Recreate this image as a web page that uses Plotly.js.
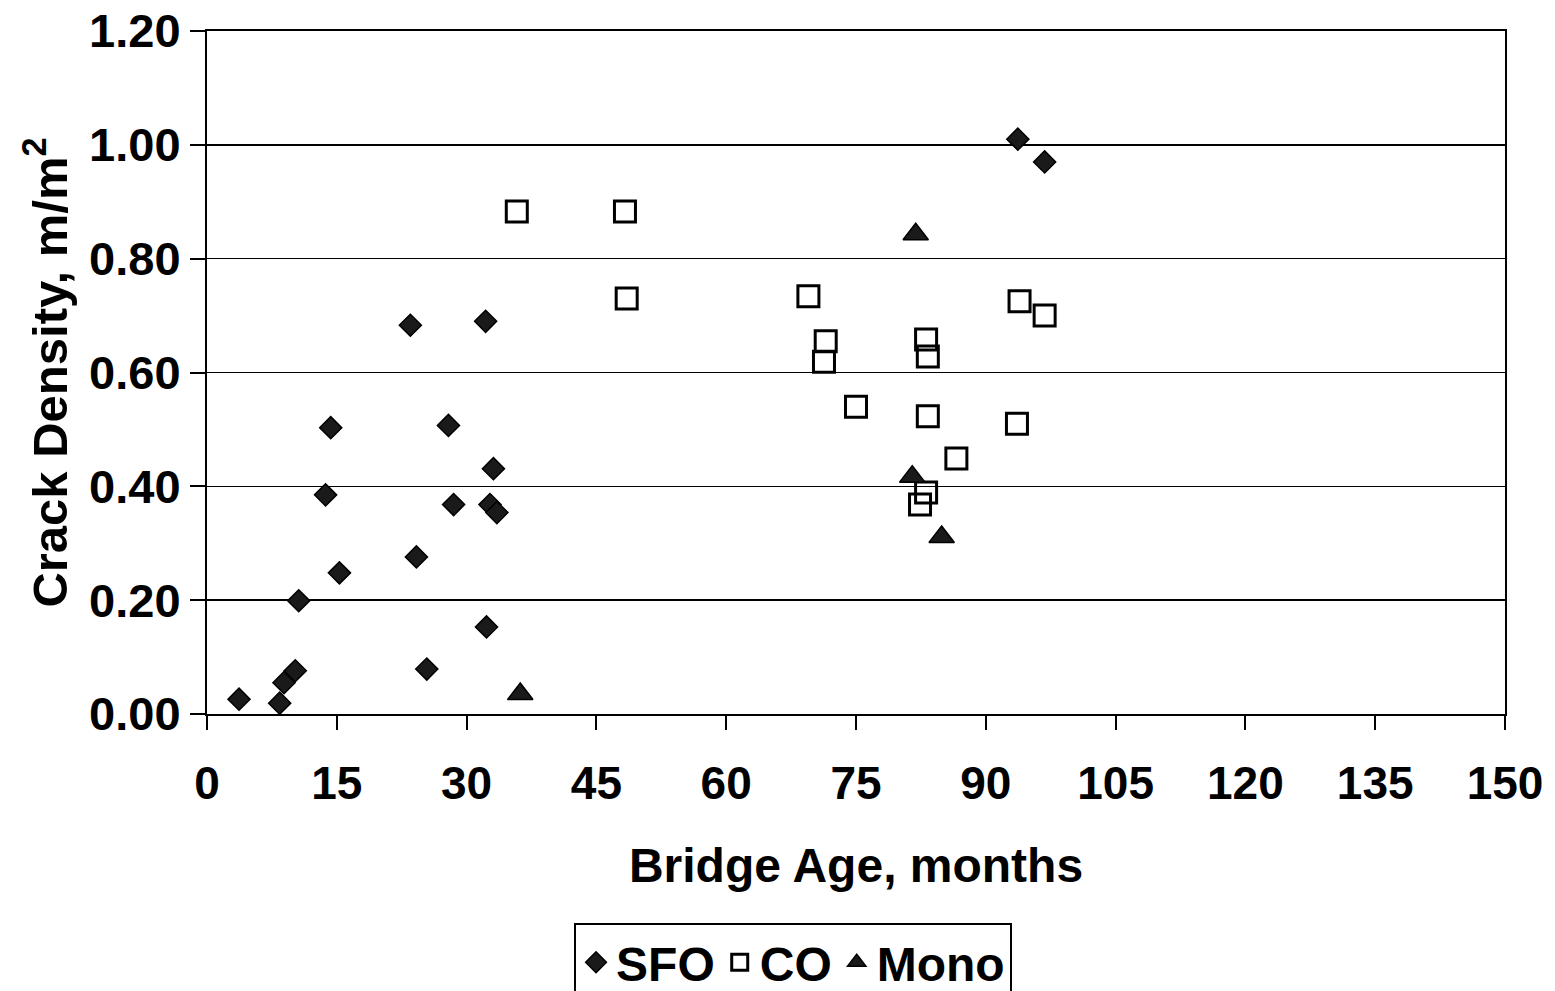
<!DOCTYPE html>
<html>
<head>
<meta charset="utf-8">
<script src="https://cdn.plot.ly/plotly-3.0.1.min.js"></script>
<style>html,body{margin:0;padding:0;background:#fff;}#chart{width:1555px;height:991px;}</style>
</head>
<body>
<div id="chart"></div>
<script>
const sfoAge = [3.7, 8.4, 8.9, 10.2, 10.6, 15.3, 13.7, 14.3, 23.5, 24.2, 25.4, 27.9, 28.5, 32.2, 32.3, 32.7, 33.1, 33.5, 93.7, 96.8];
const sfoDensity = [0.026, 0.019, 0.055, 0.076, 0.199, 0.248, 0.385, 0.503, 0.683, 0.276, 0.079, 0.507, 0.368, 0.690, 0.153, 0.368, 0.431, 0.354, 1.010, 0.970];

const coAge = [35.8, 48.3, 48.5, 69.5, 71.5, 71.3, 75.0, 83.1, 83.3, 83.3, 86.6, 83.1, 82.4, 93.9, 96.8, 93.6];
const coDensity = [0.883, 0.883, 0.730, 0.734, 0.655, 0.619, 0.540, 0.658, 0.628, 0.523, 0.449, 0.389, 0.368, 0.725, 0.700, 0.510];

const monoAge = [36.2, 81.9, 81.5, 84.9];
const monoDensity = [0.035, 0.843, 0.417, 0.311];

const xTicks = [0, 15, 30, 45, 60, 75, 90, 105, 120, 135, 150];
const yTicks = [0, 0.2, 0.4, 0.6, 0.8, 1.0, 1.2];

const FONT = 'Liberation Sans, Arial, sans-serif';

const traces = [
  {x: sfoAge, y: sfoDensity, name: 'SFO', type: 'scatter', mode: 'markers',
   marker: {symbol: 'diamond', size: 17, color: '#1a1a1a', line: {color: '#000', width: 1.5}}},
  {x: coAge, y: coDensity, name: 'CO', type: 'scatter', mode: 'markers',
   marker: {symbol: 'square-open', size: 21, color: '#000', line: {color: '#000', width: 3}}},
  {x: monoAge, y: monoDensity, name: 'Mono', type: 'scatter', mode: 'markers',
   marker: {symbol: 'triangle-up', size: 22, color: '#1a1a1a', line: {color: '#000', width: 1.5}}}
];

const layout = {
  width: 1555, height: 991,
  paper_bgcolor: '#fff', plot_bgcolor: '#fff',
  margin: {l: 207, r: 50, t: 31, b: 277, autoexpand: false},
  font: {family: FONT, color: '#000', size: 46, weight: 'bold'},
  showlegend: true,
  legend: {
    orientation: 'h', xref: 'container', yref: 'container',
    x: 0.51, xanchor: 'center', y: 0.069, yanchor: 'top',
    bordercolor: '#000', borderwidth: 2, bgcolor: '#fff',
    font: {family: FONT, size: 48, weight: 'bold', color: '#000'},
    itemwidth: 30, tracegroupgap: 0
  },
  xaxis: {
    range: [0, 150], tickvals: xTicks, ticktext: xTicks.map(String),
    showgrid: false, zeroline: false,
    showline: true, linecolor: '#000', linewidth: 2, mirror: true,
    ticks: 'outside', ticklen: 14, tickwidth: 2, tickcolor: '#000',
    ticklabelstandoff: 14,
    tickfont: {family: FONT, size: 46, weight: 'bold', color: '#000'},
    title: {text: 'Bridge Age, months', standoff: 40,
            font: {family: FONT, size: 48, weight: 'bold', color: '#000'}}
  },
  yaxis: {
    range: [0, 1.2], tickvals: yTicks, ticktext: yTicks.map(v => v.toFixed(2)),
    showgrid: true, gridcolor: '#000', gridwidth: 1.5, zeroline: false,
    showline: true, linecolor: '#000', linewidth: 2, mirror: true,
    ticks: 'outside', ticklen: 15, tickwidth: 2, tickcolor: '#000',
    tickfont: {family: FONT, size: 47, weight: 'bold', color: '#000'},
    title: {text: 'Crack Density, m/m<sup>2</sup>', standoff: 6,
            font: {family: FONT, size: 49, weight: 'bold', color: '#000'}}
  }
};

Plotly.newPlot('chart', traces, layout, {displayModeBar: false, staticPlot: true});
</script>
</body>
</html>
